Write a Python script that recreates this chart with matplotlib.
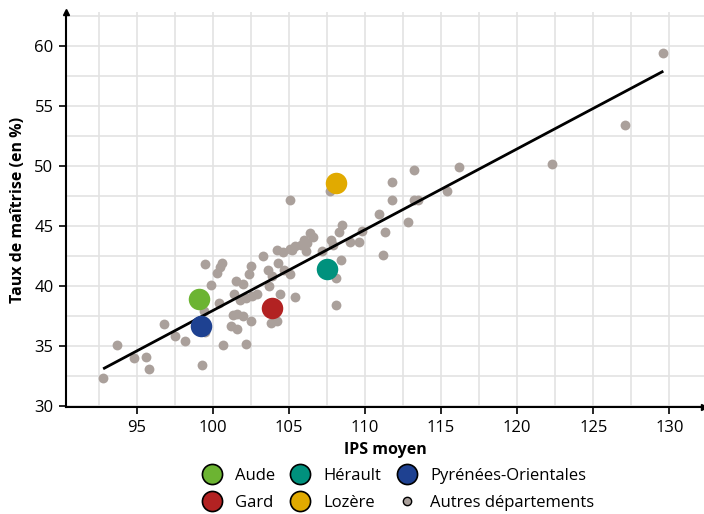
import matplotlib
matplotlib.use("Agg")
import matplotlib.pyplot as plt
from matplotlib.lines import Line2D
from matplotlib.ticker import MultipleLocator

plt.rcParams['font.family'] = ['Open Sans', 'DejaVu Sans']

# autres departements (IPS moyen, taux de maitrise)
autres_ips = [92.8, 93.7, 94.8, 95.6, 95.8, 96.8, 97.5, 98.2, 99.3, 99.5,
              100.6, 100.5, 100.3, 99.9, 100.4, 99.4, 99.5, 100.7, 102.2, 101.2,
              101.6, 101.3, 101.6, 102.0, 102.5, 101.5, 102.0, 101.4, 101.8, 102.2,
              102.6, 102.9, 102.5, 102.4, 103.3, 103.6, 103.7, 103.9, 104.3, 104.2,
              104.6, 105.1, 104.4, 105.4, 103.8, 104.2, 105.1, 104.7, 105.1, 107.7,
              108.5, 108.3, 106.4, 106.6, 106.0, 106.2, 105.8, 105.4, 105.2, 106.1,
              107.2, 107.8, 107.9, 109.0, 109.6, 109.8, 108.4, 108.1, 108.1, 110.9,
              111.3, 111.2, 111.8, 111.8, 113.2, 113.2, 113.5, 112.8, 115.4, 116.2,
              122.3, 127.1, 129.6]
autres_taux = [32.3, 35.1, 34.0, 34.1, 33.1, 36.8, 35.8, 35.4, 33.4, 41.8,
               41.9, 41.6, 41.1, 40.1, 38.6, 37.9, 36.2, 35.1, 35.2, 36.7,
               36.4, 37.6, 37.7, 37.5, 37.1, 40.4, 40.2, 39.3, 38.8, 39.0,
               39.2, 39.3, 41.7, 41.0, 42.5, 41.3, 40.0, 40.8, 41.9, 43.0,
               42.8, 43.1, 39.3, 39.1, 36.9, 37.1, 41.0, 41.3, 47.2, 47.9,
               45.1, 44.5, 44.4, 44.1, 43.8, 43.6, 43.4, 43.3, 43.0, 42.9,
               42.9, 43.8, 43.4, 43.7, 43.7, 44.6, 42.2, 40.7, 38.4, 46.0,
               44.5, 42.6, 48.7, 47.2, 49.7, 47.2, 47.2, 45.3, 47.9, 49.9,
               50.2, 53.4, 59.4]

# departements mis en avant
dep_noms = ["Aude", "Gard", "Hérault", "Lozère", "Pyrénées-Orientales"]
dep_ips = [99.1, 103.9, 107.5, 108.1, 99.2]
dep_taux = [38.9, 38.2, 41.4, 48.6, 36.7]
dep_couleurs = ["#6cb432", "#b22222", "#00917d", "#e1aa00", "#1e4191"]

# droite de tendance
fit_x = [92.8, 129.6]
fit_y = [33.1, 57.9]

gris = "#aaa09b"

fig = plt.figure(figsize=(7.04, 5.14), dpi=100)
ax = fig.add_axes([66 / 704, 1 - 407 / 514, 638 / 704, 395 / 514])
ax.set_xlim(90.36, 132.27)
ax.set_ylim(29.92, 62.83)

ax.scatter(autres_ips, autres_taux, s=50, color=gris, zorder=2, linewidths=0)
ax.plot(fit_x, fit_y, color="black", lw=2.0, zorder=3, solid_capstyle="butt")
for nom, x, y, c in zip(dep_noms, dep_ips, dep_taux, dep_couleurs):
    ax.scatter([x], [y], s=240, color=c, zorder=4, linewidths=0)

ax.xaxis.set_minor_locator(MultipleLocator(2.5))
ax.yaxis.set_minor_locator(MultipleLocator(2.5))
ax.set_xticks(range(95, 131, 5))
ax.set_yticks(range(30, 61, 5))
ax.grid(True, which="both", color="#e3e3e3", lw=1.2, zorder=0)
ax.set_axisbelow(True)
ax.tick_params(which="minor", length=0)
ax.tick_params(which="major", length=5, width=1.2, labelsize=12, colors="black", pad=4)

for s in ["top", "right"]:
    ax.spines[s].set_visible(False)
for s in ["left", "bottom"]:
    ax.spines[s].set_linewidth(1.5)
ax.plot(1, 0, ">k", ms=5, transform=ax.transAxes, clip_on=False)
ax.plot(0, 1, "^k", ms=5, transform=ax.transAxes, clip_on=False)

ax.set_xlabel("IPS moyen", fontsize=11.5, fontweight="bold", labelpad=5)
ax.set_ylabel("Taux de maîtrise (en %)", fontsize=11.5, fontweight="bold", labelpad=6)

handles = [Line2D([], [], ls="", marker="o", ms=14.5, mfc=c, mec="black", mew=1.2)
           for c in dep_couleurs]
handles.append(Line2D([], [], ls="", marker="o", ms=6, mfc=gris, mec="black", mew=1.0))
labels = dep_noms + ["Autres départements"]
fig.legend(handles, labels, ncol=3, loc="center", bbox_to_anchor=(0.563, 0.048),
           frameon=False, fontsize=12, handletextpad=0.6, columnspacing=0.7,
           labelspacing=0.65, handlelength=1.6)

fig.savefig("out.png", dpi=100)
